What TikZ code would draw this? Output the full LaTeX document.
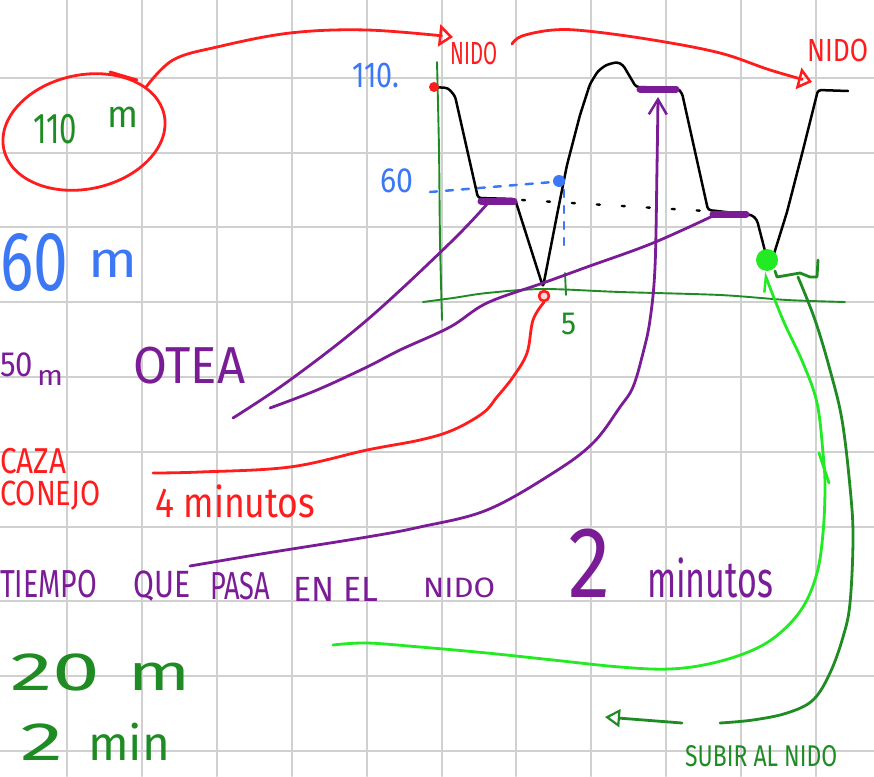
\documentclass[tikz,border=0pt]{standalone}
\usepackage{fontspec}
\setmainfont{Fira Sans}
\usepackage{graphicx}
\usetikzlibrary{arrows.meta,shapes.geometric}
\definecolor{inkred}{RGB}{255,28,28}
\definecolor{inkpurple}{RGB}{122,28,150}
\definecolor{inkblue}{RGB}{60,120,245}
\definecolor{inkgreen}{RGB}{30,140,35}
\definecolor{inklime}{RGB}{35,235,35}
\definecolor{gridgray}{RGB}{208,208,208}
% text of a given font size squeezed to a given width
\newcommand\hw[3]{\resizebox{#2pt}{\height}{\fontsize{#1}{#1}\selectfont #3}}
\begin{document}
\begin{tikzpicture}[x=1pt,y=-1pt,line cap=round,line join=round,
  lbl/.style={inner sep=0pt,anchor=base west},
  pen/.style={line width=2.8pt},
  redpen/.style={pen,inkred},
  purplepen/.style={pen,inkpurple},
  limepen/.style={pen,inklime},
  greenpen/.style={pen,inkgreen},
  axis/.style={inkgreen,line width=1.9pt},
  plateau/.style={inkpurple,line width=7pt},
  dot/.style={circle,inner sep=0pt,minimum size=#1},
  opentri/.style={-{Triangle[open,length=14pt,width=22pt,line width=2.5pt]}}]
\useasboundingbox (0,0) rectangle (874,776);
\clip (0,0) rectangle (874,776);
\fill[white] (0,0) rectangle (874,776);

% squared paper
\foreach \i in {0,...,10}
  \draw[gridgray,line width=2pt] ({67+74.9*\i},0) -- ({67+74.9*\i},776);
\foreach \j in {1,...,10}
  \draw[gridgray,line width=2pt] (0,{3+74.8*\j}) -- (874,{3+74.8*\j});

% ---- axes of the altitude profile ----
\draw[axis] plot[smooth] coordinates {(437,62) (439,150) (440,240) (442,320)};
\draw[axis] plot[smooth] coordinates {(423,302) (453,298) (487,293) (543,289) (620,292) (720,295) (787,300) (845,302)};
\draw[axis] (565,273) -- (566,295);
\node[lbl,text=inkgreen] (five) at (561,334) {\hw{32}{15}{5}};
\node[lbl,text=inkblue] (y110) at (352,87) {\hw{36}{47}{110.}};
\node[lbl,text=inkblue] (y60) at (380,192) {\hw{35}{33}{60}};

% level guides
\draw[inkblue,line width=2.5pt,dash pattern=on 7pt off 9pt] (430,192) -- (553,182);
\draw[inkblue,line width=2.5pt,dash pattern=on 7pt off 9pt] (564,190) -- (564,250);
\draw[black,line width=2.4pt,dash pattern=on 3pt off 22pt] (522,200) -- (706,211);

% ---- flight profile ----
\draw[black,line width=2.5pt,rounded corners=3pt]
  (434,87) -- (448,88) -- (455,96) -- (478,198) -- (515,199) -- (543,287)
  -- (557,215) -- (567,165) -- (580,115) -- (590,84) -- (598,71) -- (606,65)
  -- (617,62) -- (623,65) -- (636,87) -- (677,88) -- (682,93) -- (708,210)
  -- (752,215) -- (757,220) -- (766,255) -- (773,257) -- (787,212)
  -- (803,150) -- (818,90) -- (848,91);

% plateaus where the bird stays
\draw[plateau] (481,201) -- (514,201) coordinate (p1);
\draw[plateau] (640,89) -- (676,89) coordinate (p2);
\draw[plateau] (713,214) -- (746,214) coordinate (p3);
\coordinate (p1c) at (488,203);
\coordinate (p2c) at (658,97);
\coordinate (p3c) at (717,214);

% marked points
\node[dot=10pt,fill=inkred] (start) at (434,87) {};
\node[dot=10pt,draw=inkred,line width=2.6pt,fill=red!15] (low) at (544,296) {};
\node[dot=12pt,fill=inkblue] (mark60) at (559,181) {};
\node[dot=22pt,fill=inklime] (land) at (767,260) {};

% ---- labels on the left ----
\node[draw=inkred,line width=2.8pt,ellipse,minimum width=164pt,minimum height=114pt,rotate=12,inner sep=0pt] (ell) at (84,132) {};
\draw[redpen] (110,72) -- (137,80);
\node[lbl,text=inkgreen] (h110) at (33,143) {\hw{43}{44}{110}};
\node[lbl,text=inkgreen] (hm) at (107,127) {\hw{38}{31}{m}};

\node[lbl,text=inkblue] (b60) at (0,290) {\hw{84}{68}{60}};
\node[lbl,text=inkblue] (bm) at (88,277) {\hw{51}{49}{m}};

\node[lbl,text=inkpurple] (p50) at (0,376) {\hw{35}{33}{50}};
\node[lbl,text=inkpurple] (pm) at (37,385) {\hw{28}{26}{m}};
\node[lbl,text=inkpurple] (otea) at (133,383) {\hw{52}{112}{OTEA}};

\node[lbl,text=inkred] (caza) at (0,473) {\hw{36}{66}{CAZA}};
\node[lbl,text=inkred] (conejo) at (0,505) {\hw{35}{100}{CONEJO}};
\node[lbl,text=inkred] (min4) at (155,517) {\hw{42}{160}{4 minutos}};

\node[lbl,text=inkpurple] (w1) at (0,597) {\hw{39}{97}{TIEMPO}};
\node[lbl,text=inkpurple] (w2) at (133,597) {\hw{38}{57}{QUE}};
\node[lbl,text=inkpurple] (w3) at (210,599) {\hw{39}{60}{PASA}};
\node[lbl,text=inkpurple] (w4) at (293,601) {\hw{35}{85}{EN EL}};
\node[lbl,text=inkpurple] (w5) at (423,597) {\hw{28}{72}{NIDO}};

\node[lbl,text=inkpurple] (two) at (568,597) {\hw{101}{42}{2}};
\node[lbl,text=inkpurple] (min2) at (647,597) {\hw{51}{126}{minutos}};

\node[lbl,text=inkgreen] (g20) at (10,690) {\hw{54}{90}{20}};
\node[lbl,text=inkgreen] (gm) at (128,690) {\hw{51}{62}{m}};
\node[lbl,text=inkgreen] (g2) at (20,760) {\hw{54}{43}{2}};
\node[lbl,text=inkgreen] (gmin) at (88,760) {\hw{48}{82}{min}};

\node[lbl,text=inkgreen] (subir) at (685,766) {\hw{30}{152}{SUBIR AL NIDO}};

\node[lbl,text=inkred] (nidoL) at (450,65) {\hw{32}{47}{NIDO}};
\node[lbl,text=inkred] (nidoR) at (807,62) {\hw{32}{61}{NIDO}};

% ---- connectors ----
\coordinate (arcStart) at (512,44);
\draw[redpen,opentri] plot[smooth,tension=0.6] coordinates
  {(ell.24) (173,60) (217,47) (290,33) (367,30) (453,37)};
\draw[redpen,opentri] plot[smooth,tension=0.6] coordinates
  {(arcStart) (522,36) (553,30) (587,31) (653,40) (720,53) (770,70) (812,82)};

\coordinate (redEnd) at (153,473);
\draw[redpen] plot[smooth,tension=0.6] coordinates
  {(low.south) (533,320) (527,353) (513,377) (497,397) (483,413) (453,430)
   (420,440) (367,450) (290,467) (200,472) (redEnd)};

\coordinate (oteaEnd1) at (233,418);
\coordinate (oteaEnd2) at (270,408);
\draw[purplepen] plot[smooth,tension=0.6] coordinates
  {(p1c) (450,243) (367,320) (290,380) (oteaEnd1)};
\draw[purplepen] plot[smooth,tension=0.6] coordinates
  {(p3c) (653,243) (587,267) (543,283) (487,303) (450,327) (400,350) (367,367) (317,390) (oteaEnd2)};

\coordinate (nestEnd) at (190,566);
\draw[purplepen,-{Straight Barb[length=15pt,width=18pt,line width=2.5pt]}] plot[smooth,tension=0.6] coordinates
  {(nestEnd) (267,553) (367,537) (420,527) (487,510) (553,473) (593,443) (620,407)
   (633,387) (643,353) (650,320) (655,267) (657,167) (p2c)};

\coordinate (limeEnd) at (333,645);
\draw[limepen,-{Straight Barb[left,length=14pt,width=14pt,line width=2.5pt]}] plot[smooth,tension=0.6] coordinates
  {(limeEnd) (367,643) (420,647) (487,653) (553,660) (620,667) (670,669) (713,663)
   (753,650) (780,633) (803,607) (817,573) (823,533) (825,487) (823,453) (817,403)
   (803,363) (783,320) (764,272)};
\draw[limepen] (819,453) -- (829,483);

\draw[greenpen] (775,271) -- (777,277) -- (800,273) -- (810,277) -- (817,277) -- (818,260);
\coordinate (bracketFoot) at (798,277);
\coordinate (loopEnd) at (720,723);
\draw[greenpen] plot[smooth,tension=0.6] coordinates
  {(bracketFoot) (815,320) (830,370) (842,420) (850,487) (853,537) (850,603) (843,637)
   (830,673) (813,700) (787,713) (753,720) (loopEnd)};
\coordinate (backFrom) at (682,723);
\coordinate (backTip) at (605,717);
\draw[greenpen,-{Triangle[open,length=15pt,width=18pt,line width=2.2pt]}] (backFrom) -- (backTip);
\end{tikzpicture}
\end{document}
